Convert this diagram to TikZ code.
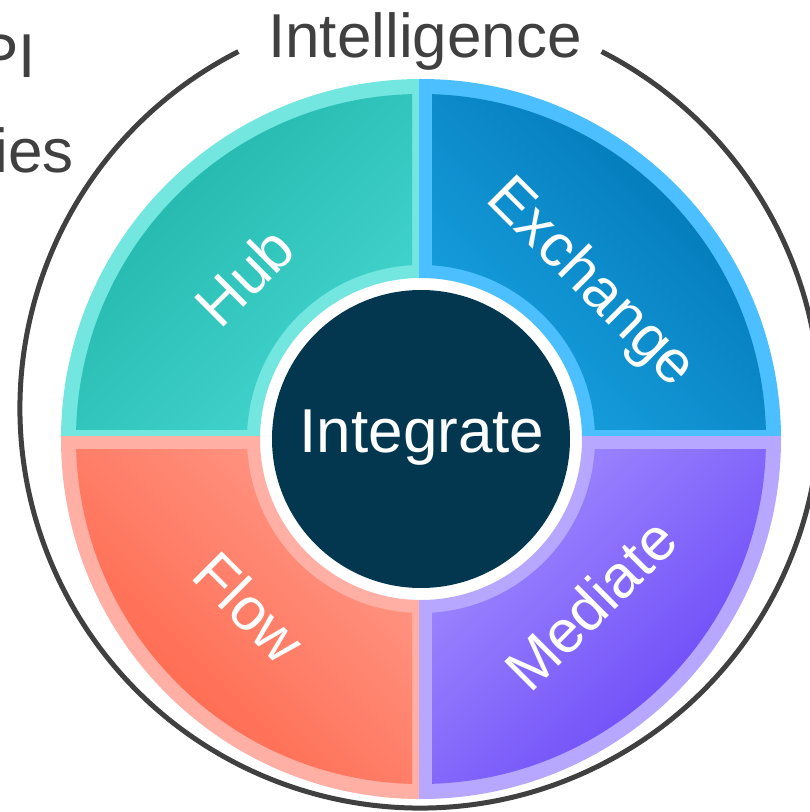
\documentclass[tikz,border=0pt]{standalone}
\usepackage{fontspec}
\setmainfont{Liberation Sans}
\definecolor{tealL}{HTML}{72E6DF}
\definecolor{tealD}{HTML}{1FB3A9}
\definecolor{tealM}{HTML}{46D8D1}
\definecolor{blueL}{HTML}{4BBFFF}
\definecolor{blueD}{HTML}{0074B4}
\definecolor{blueM}{HTML}{1AA3E2}
\definecolor{salL}{HTML}{FFAFA3}
\definecolor{salD}{HTML}{FF6347}
\definecolor{salM}{HTML}{FF9B8A}
\definecolor{lavL}{HTML}{B7A7FF}
\definecolor{lavD}{HTML}{6744F7}
\definecolor{lavM}{HTML}{A38EFF}
\definecolor{navy}{HTML}{03374F}
\definecolor{greyT}{HTML}{404040}
\begin{document}
\begin{tikzpicture}[x=1pt,y=1pt,
  lbl/.style={text=white,font=\fontsize{60}{72}\selectfont,anchor=base,inner sep=0pt},
  big/.style={font=\fontsize{62}{74}\selectfont,inner sep=0pt},
  ring/.style={even odd rule},
  ]
\useasboundingbox (0,0) rectangle (810,812);
\clip (0,0) rectangle (810,812);
% outer grey circle with gap for the title
\draw[greyT,line width=5] (420,404) ++(117:400) arc[start angle=117,end angle=423,radius=400];
\begin{scope}[shift={(421,373)}]
  % light outer sectors
  \begin{scope}\clip (-2,2) rectangle (-400,400);
    \fill[tealL,ring] (0,0) circle[radius=360] (0,0) circle[radius=161];\end{scope}
  \begin{scope}\clip (-2,2) rectangle (400,400);
    \fill[blueL,ring] (0,0) circle[radius=360] (0,0) circle[radius=161];\end{scope}
  \begin{scope}\clip (-2,2) rectangle (-400,-400);
    \fill[salL,ring] (0,0) circle[radius=360] (0,0) circle[radius=161];\end{scope}
  \begin{scope}\clip (-2,2) rectangle (400,-400);
    \fill[lavL,ring] (0,0) circle[radius=360] (0,0) circle[radius=161];\end{scope}
  % gradient fills
  \begin{scope}\clip (-9,9) rectangle (-400,400);
    \shade[top color=tealD,bottom color=tealM,shading angle=45]
      (90:345) arc[start angle=90,end angle=180,radius=345] -- (180:174) arc[start angle=180,end angle=90,radius=174] -- cycle;\end{scope}
  \begin{scope}\clip (11,9) rectangle (400,400);
    \shade[top color=blueD,bottom color=blueM,shading angle=-45]
      (0:345) arc[start angle=0,end angle=90,radius=345] -- (90:174) arc[start angle=90,end angle=0,radius=174] -- cycle;\end{scope}
  \begin{scope}\clip (-9,-11) rectangle (-400,-400);
    \shade[bottom color=salD,top color=salM,shading angle=-45]
      (180:345) arc[start angle=180,end angle=270,radius=345] -- (270:174) arc[start angle=270,end angle=180,radius=174] -- cycle;\end{scope}
  \begin{scope}\clip (11,-11) rectangle (400,-400);
    \shade[bottom color=lavD,top color=lavM,shading angle=45]
      (270:345) arc[start angle=270,end angle=360,radius=345] -- (0:174) arc[start angle=360,end angle=270,radius=174] -- cycle;\end{scope}
  \fill[navy] (0,0) circle[radius=149];
\end{scope}
\node[big,text=white,anchor=base] (integ) at (422,359) {Integrate};
\node[big,text=greyT,anchor=base] (intel) at (425,754) {Intelligence};
\node[big,text=greyT,anchor=base east] (api) at (36,734) {PI};
\node[big,text=greyT,anchor=base east] (ies) at (74,639) {ies};
\node[lbl,rotate=45] (hub) at (259.5,520.5) {Hub};
\node[lbl,rotate=-45] (exch) at (579,517) {Exchange};
\node[lbl,rotate=-45] (flow) at (234.5,189.5) {Flow};
\node[lbl,rotate=45] (med) at (605.5,192.5) {Mediate};
\end{tikzpicture}
\end{document}
